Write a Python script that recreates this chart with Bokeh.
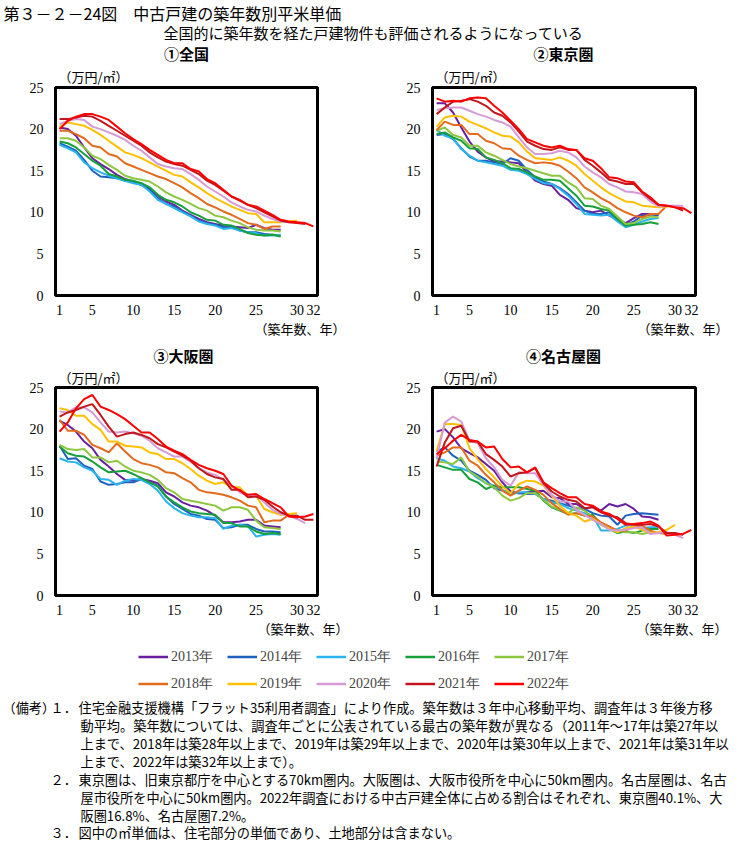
from bokeh.plotting import figure
from bokeh.layouts import column, row
from bokeh.models import Range1d, FixedTicker, Legend, LegendItem, Title
from bokeh.core.properties import value
from bokeh.embed import file_html
from bokeh.resources import INLINE

JP = "Noto Sans CJK JP"
SERIF = "Liberation Serif"

years = ["2013年", "2014年", "2015年", "2016年", "2017年",
         "2018年", "2019年", "2020年", "2021年", "2022年"]
colors = ["#6A1FA0", "#1E62C0", "#2BB3EE", "#16A03A", "#8DC63F",
          "#E46A1C", "#FFC000", "#D59BD6", "#C3161C", "#FF0000"]
x_ticks = [1, 5, 10, 15, 20, 25, 30, 32]
y_ticks = [0, 5, 10, 15, 20, 25]

# ---- ① 全国 ----
zenkoku_2013 = [20.2, 20.0, 19.2, 17.8, 16.5, 15.8, 15.2, 14.5, 14.0, 13.7, 13.3, 12.8, 12.0, 11.3, 10.9, 10.2, 9.7, 9.2, 8.8, 8.6, 8.4, 8.3, 8.2, 8.1, 8.5, 8.1, 7.9, 7.9]
zenkoku_2014 = [18.3, 17.9, 17.4, 16.3, 15.0, 14.3, 14.2, 14.1, 13.8, 13.6, 13.3, 12.7, 11.7, 11.0, 10.7, 10.1, 9.6, 9.0, 8.7, 8.5, 8.2, 8.2, 7.8, 7.6, 7.6, 7.4, 7.3, 7.2]
zenkoku_2015 = [18.1, 17.7, 17.2, 16.0, 15.3, 14.8, 14.4, 14.1, 13.8, 13.5, 13.3, 12.5, 11.5, 11.0, 10.5, 10.0, 9.5, 8.9, 8.6, 8.4, 8.0, 8.1, 7.8, 7.6, 7.5, 7.2, 7.2, 7.3]
zenkoku_2016 = [18.5, 18.3, 17.8, 17.0, 16.2, 15.6, 14.6, 14.3, 13.9, 13.8, 13.5, 13.0, 12.1, 11.5, 11.2, 10.7, 10.0, 9.6, 9.1, 9.0, 8.5, 8.4, 8.0, 7.5, 7.3, 7.2, 7.3, 7.1]
zenkoku_2017 = [18.9, 18.9, 18.6, 17.8, 16.8, 16.4, 15.7, 15.1, 14.4, 14.1, 13.9, 13.7, 13.1, 12.4, 11.9, 11.5, 11.0, 10.5, 10.2, 9.6, 9.4, 9.0, 8.7, 8.2, 7.9, 7.8, 7.8, 7.7]
zenkoku_2018 = [19.8, 19.8, 19.4, 18.9, 18.0, 17.8, 17.0, 16.7, 15.9, 15.5, 15.1, 14.7, 14.3, 14.0, 13.5, 13.0, 12.3, 11.7, 11.0, 10.6, 10.1, 9.7, 9.2, 8.7, 8.5, 8.0, 8.3, 8.3]
zenkoku_2019 = [20.3, 20.8, 20.6, 20.4, 19.9, 19.3, 18.6, 17.9, 17.2, 16.9, 16.5, 16.0, 15.5, 15.0, 14.5, 14.3, 13.6, 13.0, 12.3, 11.7, 11.2, 10.7, 10.3, 9.9, 9.8, 8.8, 8.8, 8.8, 8.9, 9.0]
zenkoku_2020 = [20.6, 21.0, 21.2, 21.1, 20.3, 20.0, 19.6, 19.2, 18.7, 18.0, 17.4, 16.6, 15.8, 15.5, 15.3, 15.2, 14.6, 13.9, 13.1, 12.5, 11.9, 11.2, 10.7, 10.3, 10.1, 9.6, 9.2, 8.9, 8.8, 8.8]
zenkoku_2021 = [21.2, 21.2, 21.4, 21.6, 21.5, 21.0, 20.4, 19.8, 19.2, 18.6, 18.0, 17.2, 16.6, 16.1, 15.8, 15.6, 15.1, 14.6, 13.8, 13.3, 12.6, 11.9, 11.4, 10.9, 10.5, 10.0, 9.5, 9.0, 8.8, 8.7, 8.6]
zenkoku_2022 = [20.0, 21.0, 21.5, 21.8, 21.8, 21.5, 21.1, 20.3, 19.5, 18.8, 18.2, 17.5, 16.9, 16.3, 15.9, 15.9, 15.2, 14.9, 14.0, 13.5, 12.7, 11.9, 11.5, 10.9, 10.7, 10.2, 9.7, 9.1, 8.9, 8.8, 8.7, 8.3]

# ---- ② 東京圏 ----
tokyo_2013 = [23.1, 23.1, 22.0, 20.2, 18.5, 17.3, 16.6, 16.1, 16.1, 16.0, 15.9, 14.8, 13.8, 13.4, 13.2, 12.1, 11.5, 10.5, 10.2, 10.0, 10.2, 9.6, 9.2, 8.7, 9.3, 9.8, 9.8, 9.6]
tokyo_2014 = [19.3, 19.4, 18.8, 17.7, 16.7, 16.2, 16.2, 16.0, 15.8, 16.5, 16.2, 15.1, 14.2, 13.7, 13.4, 12.9, 12.2, 11.2, 10.2, 9.8, 9.8, 10.0, 9.1, 8.5, 8.9, 9.6, 9.7, 9.7]
tokyo_2015 = [19.9, 19.2, 18.9, 17.6, 16.8, 16.2, 16.0, 15.8, 15.6, 15.1, 15.0, 14.6, 14.0, 13.5, 13.4, 12.8, 12.0, 11.0, 9.8, 9.7, 9.6, 9.7, 8.9, 8.2, 8.5, 8.9, 9.2, 9.3]
tokyo_2016 = [19.4, 19.6, 19.0, 18.6, 17.7, 17.6, 16.6, 16.3, 15.9, 15.3, 15.2, 14.8, 14.3, 13.9, 13.9, 13.8, 12.9, 12.0, 10.8, 10.7, 10.4, 10.2, 9.2, 8.4, 8.5, 8.6, 8.8, 8.6]
tokyo_2017 = [19.8, 20.2, 19.3, 19.0, 18.0, 18.0, 17.2, 16.8, 16.3, 15.8, 15.5, 15.3, 15.0, 14.7, 14.4, 14.4, 13.6, 13.0, 11.7, 11.6, 10.8, 10.4, 9.5, 8.6, 8.7, 9.2, 9.5, 9.4]
tokyo_2018 = [19.9, 20.9, 20.5, 20.5, 19.4, 19.4, 18.6, 18.3, 17.7, 17.6, 16.8, 16.3, 15.9, 16.0, 15.9, 15.6, 14.9, 14.1, 13.0, 12.4, 11.7, 11.2, 10.5, 10.0, 9.6, 9.4, 9.8, 9.8, 10.8]
tokyo_2019 = [20.3, 21.4, 21.6, 21.5, 20.9, 20.5, 20.1, 19.6, 19.2, 19.1, 18.4, 17.3, 16.5, 16.4, 16.3, 16.6, 16.2, 15.6, 14.6, 13.8, 13.0, 12.3, 11.8, 11.3, 11.2, 10.8, 10.7, 10.6, 10.7, 10.8]
tokyo_2020 = [22.3, 22.5, 22.6, 22.6, 22.2, 21.8, 21.5, 21.1, 20.8, 20.3, 19.0, 17.8, 17.0, 17.0, 17.1, 17.4, 17.2, 16.6, 15.5, 14.8, 14.2, 13.4, 13.0, 12.5, 12.4, 12.2, 11.3, 10.7, 10.8, 10.8, 10.8]
tokyo_2021 = [21.8, 22.6, 23.3, 23.4, 23.6, 23.3, 22.8, 22.0, 21.6, 20.8, 19.7, 18.5, 18.0, 17.6, 17.5, 17.8, 17.5, 17.5, 16.3, 15.6, 14.8, 13.9, 13.7, 13.4, 13.4, 12.4, 11.6, 10.9, 10.8, 10.6, 10.2]
tokyo_2022 = [23.7, 23.3, 23.4, 23.3, 23.7, 23.8, 23.7, 22.8, 22.0, 21.0, 20.0, 18.8, 18.4, 18.0, 17.8, 18.0, 17.6, 17.5, 16.5, 16.2, 15.3, 14.2, 14.1, 13.7, 13.6, 12.5, 11.8, 10.9, 10.8, 10.6, 10.5, 9.9]

# ---- ③ 大阪圏 ----
osaka_2013 = [21.0, 20.5, 19.7, 18.5, 17.7, 16.3, 15.5, 14.6, 13.9, 13.8, 14.0, 13.8, 13.5, 12.4, 11.9, 11.2, 10.8, 10.6, 10.2, 9.6, 8.8, 8.8, 8.9, 9.1, 9.1, 8.4, 8.3, 8.2]
osaka_2014 = [18.0, 16.4, 16.5, 15.6, 15.2, 13.7, 13.3, 13.4, 13.6, 13.6, 14.0, 13.6, 13.2, 11.9, 11.0, 10.4, 9.8, 9.6, 9.2, 9.1, 8.1, 8.2, 8.5, 8.5, 8.0, 7.7, 7.7, 7.6]
osaka_2015 = [16.5, 16.1, 16.0, 15.4, 15.0, 14.0, 13.9, 13.3, 13.8, 14.0, 13.9, 13.4, 12.6, 11.3, 10.5, 9.9, 9.6, 9.4, 9.4, 9.3, 8.0, 8.4, 8.5, 8.3, 7.1, 7.3, 7.4, 7.3]
osaka_2016 = [17.9, 17.1, 16.8, 16.7, 16.1, 15.4, 14.8, 14.9, 15.0, 14.6, 14.1, 13.6, 13.1, 11.9, 11.2, 10.6, 10.1, 9.9, 9.8, 9.7, 8.7, 8.7, 8.3, 8.3, 7.7, 7.4, 7.5, 7.4]
osaka_2017 = [18.1, 17.6, 17.5, 17.6, 16.6, 16.6, 16.0, 16.2, 15.5, 15.0, 14.8, 14.5, 13.9, 12.9, 12.4, 11.6, 11.4, 11.2, 11.0, 10.8, 10.2, 10.6, 10.6, 10.3, 9.0, 8.2, 8.1, 8.0]
osaka_2018 = [21.1, 19.8, 19.8, 19.3, 18.1, 17.7, 17.2, 18.3, 17.3, 16.4, 15.9, 15.7, 15.4, 14.8, 14.7, 14.1, 13.6, 12.7, 12.4, 12.3, 12.1, 11.8, 11.4, 10.8, 10.6, 8.8, 9.0, 9.0, 9.7]
osaka_2019 = [22.5, 22.3, 21.6, 21.6, 20.6, 19.9, 18.5, 18.5, 18.0, 17.9, 17.8, 17.2, 17.0, 16.4, 16.4, 15.9, 15.2, 14.4, 13.8, 13.4, 13.6, 13.0, 13.0, 12.0, 12.0, 10.4, 10.0, 9.7, 9.8, 9.9]
osaka_2020 = [22.1, 22.0, 22.6, 22.6, 22.0, 20.8, 19.7, 19.6, 19.7, 19.5, 19.2, 18.6, 17.7, 17.2, 16.7, 16.7, 16.1, 15.3, 14.8, 14.5, 13.9, 13.2, 12.4, 12.0, 12.1, 11.2, 10.3, 9.8, 9.6, 9.2, 8.7]
osaka_2021 = [21.5, 22.0, 22.3, 22.7, 23.0, 21.7, 20.3, 19.1, 19.4, 19.6, 19.3, 18.9, 18.2, 17.8, 17.3, 16.8, 16.2, 15.3, 14.6, 14.2, 14.0, 12.7, 12.7, 11.8, 11.9, 11.5, 10.7, 10.0, 9.6, 9.6, 9.1, 9.1]
osaka_2022 = [19.7, 20.8, 22.5, 23.6, 24.1, 22.7, 22.3, 21.8, 21.2, 20.4, 19.6, 19.6, 18.8, 17.9, 17.4, 17.0, 16.3, 15.7, 15.3, 15.0, 14.6, 13.2, 12.6, 12.1, 12.2, 11.6, 11.1, 10.6, 9.5, 9.4, 9.5, 9.8]

# ---- ④ 名古屋圏 ----
nagoya_2013 = [19.7, 20.0, 19.0, 17.7, 17.1, 16.6, 15.8, 15.0, 13.6, 12.5, 12.3, 12.4, 12.5, 12.6, 11.8, 11.7, 11.0, 11.0, 10.4, 10.7, 10.2, 11.0, 10.7, 11.0, 10.4, 9.5, 9.4, 9.1]
nagoya_2014 = [17.3, 17.8, 16.8, 16.2, 15.0, 14.5, 13.9, 12.9, 12.6, 12.4, 12.3, 12.2, 12.2, 11.6, 11.4, 11.1, 10.8, 10.5, 10.4, 9.9, 9.6, 9.5, 8.5, 9.6, 9.8, 9.9, 9.8, 9.7]
nagoya_2015 = [16.5, 16.2, 15.5, 15.3, 14.9, 14.1, 13.5, 13.2, 12.7, 12.1, 12.4, 12.4, 12.2, 11.6, 11.2, 11.0, 10.5, 10.2, 9.9, 9.6, 7.8, 7.8, 8.0, 8.4, 8.4, 8.1, 8.2, 8.2]
nagoya_2016 = [15.7, 15.4, 15.1, 15.1, 14.0, 13.6, 12.8, 13.2, 13.0, 13.0, 13.0, 12.8, 12.6, 11.4, 10.6, 10.2, 9.8, 9.9, 9.6, 9.7, 8.6, 8.0, 7.5, 7.7, 7.5, 7.8, 8.0, 8.0]
nagoya_2017 = [16.1, 16.0, 15.8, 16.6, 14.9, 14.3, 13.5, 13.0, 12.0, 11.4, 11.7, 12.3, 12.3, 11.5, 10.7, 10.3, 9.9, 10.6, 10.2, 9.4, 8.5, 8.1, 7.8, 7.6, 7.6, 7.4, 7.6, 7.5]
nagoya_2018 = [16.8, 17.2, 17.8, 17.8, 16.2, 15.6, 14.5, 13.6, 12.6, 12.0, 12.6, 13.1, 12.7, 12.1, 11.1, 10.4, 9.7, 9.9, 9.6, 9.5, 8.8, 8.3, 7.8, 7.8, 8.3, 8.4, 7.8, 7.5, 7.4]
nagoya_2019 = [17.4, 20.6, 20.6, 20.5, 17.7, 16.4, 15.2, 14.2, 13.1, 12.3, 13.4, 13.8, 13.7, 13.2, 12.0, 10.8, 9.9, 9.6, 8.9, 9.2, 8.6, 8.0, 7.6, 8.1, 8.3, 7.9, 7.5, 7.6, 7.9, 8.5]
nagoya_2020 = [16.5, 20.8, 21.5, 20.9, 18.6, 18.3, 16.5, 15.4, 13.9, 13.2, 14.8, 14.7, 14.7, 13.3, 12.1, 11.3, 11.3, 10.3, 9.7, 9.1, 8.6, 7.9, 7.8, 7.9, 8.1, 8.2, 7.4, 7.5, 7.6, 7.3, 6.9]
nagoya_2021 = [15.5, 18.4, 20.1, 20.4, 18.5, 18.5, 17.0, 16.3, 15.5, 14.3, 14.7, 14.8, 15.3, 13.5, 12.5, 11.9, 11.5, 11.3, 10.5, 10.6, 10.0, 9.6, 9.4, 8.7, 8.5, 8.5, 8.6, 8.3, 7.5, 7.5, 7.3]
nagoya_2022 = [17.0, 17.7, 18.6, 19.3, 18.7, 18.5, 17.8, 17.9, 16.4, 15.4, 15.5, 14.8, 15.4, 13.6, 12.9, 12.3, 11.8, 11.8, 11.0, 10.8, 10.1, 9.8, 9.2, 8.5, 8.6, 8.7, 8.9, 8.4, 7.2, 7.3, 7.4, 7.9]

zenkoku = [zenkoku_2013, zenkoku_2014, zenkoku_2015, zenkoku_2016, zenkoku_2017,
           zenkoku_2018, zenkoku_2019, zenkoku_2020, zenkoku_2021, zenkoku_2022]
tokyo = [tokyo_2013, tokyo_2014, tokyo_2015, tokyo_2016, tokyo_2017,
         tokyo_2018, tokyo_2019, tokyo_2020, tokyo_2021, tokyo_2022]
osaka = [osaka_2013, osaka_2014, osaka_2015, osaka_2016, osaka_2017,
         osaka_2018, osaka_2019, osaka_2020, osaka_2021, osaka_2022]
nagoya = [nagoya_2013, nagoya_2014, nagoya_2015, nagoya_2016, nagoya_2017,
          nagoya_2018, nagoya_2019, nagoya_2020, nagoya_2021, nagoya_2022]

title_main = "第３－２－24図　中古戸建の築年数別平米単価"
title_sub = "全国的に築年数を経た戸建物件も評価されるようになっている"
panel_titles = ["①全国", "②東京圏", "③大阪圏", "④名古屋圏"]
unit_label = "（万円/㎡）"
x_label = "（築年数、年）"

notes_head = ["（備考）", "１．", "２．", "３．"]
notes_lines = [
    "住宅金融支援機構「フラット35利用者調査」により作成。築年数は３年中心移動平均、調査年は３年後方移",
    "動平均。築年数については、調査年ごとに公表されている最古の築年数が異なる（2011年～17年は築27年以",
    "上まで、2018年は築28年以上まで、2019年は築29年以上まで、2020年は築30年以上まで、2021年は築31年以",
    "上まで、2022年は築32年以上まで）。",
    "東京圏は、旧東京都庁を中心とする70km圏内。大阪圏は、大阪市役所を中心に50km圏内。名古屋圏は、名古",
    "屋市役所を中心に50km圏内。2022年調査における中古戸建全体に占める割合はそれぞれ、東京圏40.1%、大",
    "阪圏16.8%、名古屋圏7.2%。",
    "図中の㎡単価は、住宅部分の単価であり、土地部分は含まない。",
]


def text_fig(h, w=740):
    f = figure(width=w, height=h, x_range=Range1d(0, w), y_range=Range1d(h, 0),
               output_backend="svg", toolbar_location=None, min_border=0,
               x_axis_location=None, y_axis_location=None)
    f.outline_line_color = None
    f.grid.visible = False
    f.background_fill_color = "white"
    f.border_fill_color = "white"
    return f


def jp_text(f, xs, ys, texts, size, align="left", style="normal"):
    f.text(x=xs, y=ys, text=texts, text_font=value(JP), text_font_size=size,
           text_font_style=style, text_align=align, text_baseline="middle",
           text_color="black")


def panel(series, left, right, height, top, unit_standoff, xlab_shift):
    p = figure(width=370, height=height, x_range=Range1d(0.5, 32.5), y_range=Range1d(0, 25),
               output_backend="svg", toolbar_location=None,
               min_border_left=left, min_border_right=right,
               min_border_top=top, min_border_bottom=46)
    p.grid.visible = False
    p.outline_line_color = "black"
    p.outline_line_width = 3
    p.background_fill_color = "white"
    p.border_fill_color = "white"
    p.xaxis.ticker = FixedTicker(ticks=x_ticks)
    p.yaxis.ticker = FixedTicker(ticks=y_ticks)
    p.axis.axis_line_color = None
    p.axis.major_tick_line_color = None
    p.axis.minor_tick_line_color = None
    p.axis.major_tick_out = 0
    p.axis.major_tick_in = 0
    p.axis.major_label_text_font = SERIF
    p.axis.major_label_text_font_size = "14px"
    p.axis.major_label_text_color = "black"
    p.xaxis.major_label_standoff = 9
    p.yaxis.major_label_standoff = 12
    for vals, c in zip(series, colors):
        xs = list(range(1, len(vals) + 1))
        p.line(xs, vals, line_color=c, line_width=2)
    p.add_layout(Title(text=unit_label, align="left", offset=3, standoff=unit_standoff,
                       vertical_align="middle", text_font=JP, text_font_size="13px",
                       text_font_style="normal", text_color="black"), "above")
    p.add_layout(Title(text=x_label, align="right", offset=xlab_shift, standoff=0,
                       vertical_align="middle", text_font=JP, text_font_size="13px",
                       text_font_style="normal", text_color="black"), "below")
    return p


# header (0-64)
head = text_fig(64)
jp_text(head, [3], [12], [title_main], "16px")
jp_text(head, [163], [32], [title_sub], "15px")
jp_text(head, [186, 563], [53, 53], panel_titles[:2], "15px", align="center", style="bold")

# row 1 (64-341)
p1 = panel(zenkoku, 55, 53, 277, 23, 2, -28)
p2 = panel(tokyo, 62, 45, 277, 23, 2, -33)

# strip (341-366)
strip = text_fig(25)
jp_text(strip, [183, 563], [14, 14], panel_titles[2:], "15px", align="center", style="bold")

# row 2 (366-641)
p3 = panel(osaka, 55, 53, 275, 21, 0, -31)
p4 = panel(nagoya, 62, 45, 275, 21, 0, -32)

# legend (641-695)
leg = text_fig(54)
items = []
for yname, c in zip(years, colors):
    r = leg.line(x=[-10, -5], y=[-10, -10], line_color=c, line_width=2.5)
    items.append(LegendItem(label=yname, renderers=[r]))
legend = Legend(items=items, orientation="horizontal", ncols=5, location=(138, -2),
                glyph_width=30, glyph_height=27, label_height=27, label_width=56,
                label_standoff=3, spacing=0, padding=0, margin=0,
                label_text_font=SERIF, label_text_font_size="14px",
                border_line_color=None, background_fill_alpha=0)
leg.add_layout(legend)

# notes (695-845)
notes = text_fig(150)
ys = [12, 30, 48, 66, 84, 102, 120, 137]
jp_text(notes, [2, 50, 50, 50], [ys[0], ys[0], ys[4], ys[7]], notes_head, "13.2px")
xs_n = [78, 80, 80, 80, 78, 80, 80, 78]
jp_text(notes, xs_n, ys, notes_lines, "13.2px")

layout = column(head, row(p1, p2), strip, row(p3, p4), leg, notes)
open("out.html", "w").write(file_html(layout, INLINE))
